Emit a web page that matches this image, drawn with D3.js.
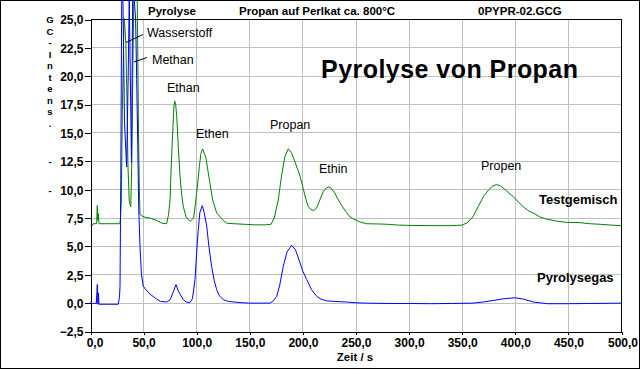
<!DOCTYPE html>
<html>
<head>
<meta charset="utf-8">
<script src="https://cdn.jsdelivr.net/npm/d3@7.9.0/dist/d3.min.js"></script>
<style>
  body { margin: 0; background: #fff; }
  svg { display: block; font-family: "Liberation Sans", Arial, sans-serif; }
  .grid line { stroke: #c0c0c0; shape-rendering: crispEdges; }
  .axis text { font-weight: bold; font-size: 12px; }
  .axis path, .axis line { stroke: #000; shape-rendering: crispEdges; }
</style>
</head>
<body>
<svg width="640" height="369"></svg>
<script>
// time (s), intensity
const testgemisch = [
  [0, 6.83], [1.5, 6.83], [2.5, 7.0], [5.8, 7.0], [6.4, 8.6], [6.8, 7.3], [7.3, 7.9], [8, 7.0],
  [15, 7.0], [27, 7.0], [28, 7.2], [29, 9.0], [30, 17], [31, 22], [31.6, 25.1], [32.3, 24.5],
  [33.3, 22.9], [34.3, 18], [35.3, 12], [36.5, 9.0], [37.9, 8.5], [38.8, 12], [39.8, 20],
  [40.8, 27], [44, 27], [45.2, 15], [46, 10], [46.6, 7.9], [48, 7.7], [52, 7.55], [56, 7.5],
  [62, 7.3], [67, 7.05], [71.7, 7.0], [73.5, 7.8], [74.9, 9.1], [76, 12], [77.4, 15],
  [78.5, 17.3], [79.3, 17.8], [80.2, 17.5], [81.2, 16.45], [82.7, 13.8], [84.3, 11.2],
  [85.8, 9.6], [87.4, 8.5], [90, 7.6], [93.7, 7.2], [97.1, 7.5], [100, 9.7], [102.5, 12.05],
  [104, 13.2], [105.6, 13.6], [108.7, 12.8], [111.9, 10.9], [115, 9.1], [118.8, 7.95],
  [125, 7.3], [128, 7.05], [135, 7.0], [145, 6.95], [155, 6.9], [165, 6.9], [170, 6.95],
  [173, 7.5], [176.8, 9.1], [180, 11.3], [183, 12.9], [186.3, 13.6], [189, 13.3], [192, 12.6],
  [195, 11.8], [197.3, 11.2], [200, 10.2], [203, 9.1], [205, 8.5], [207, 8.3], [209.8, 8.15],
  [213, 8.4], [216, 9.1], [219, 9.8], [222, 10.15], [224.5, 10.24], [227, 10.1], [230, 9.7],
  [234, 9.0], [238, 8.4], [241, 8.0], [244.3, 7.6], [248, 7.4], [253.8, 7.15], [260, 7.0],
  [270, 6.98], [280, 6.95], [290, 6.88], [300, 6.85], [320, 6.83], [340, 6.83], [350, 6.88],
  [355, 7.1], [360, 7.6], [365, 8.5], [370, 9.4], [375, 10.0], [379, 10.35], [382.5, 10.44],
  [386, 10.35], [390, 10.05], [394, 9.7], [398, 9.4], [403, 8.9], [408, 8.45], [413, 8.1],
  [417, 7.95], [423, 7.6], [429.6, 7.4], [438, 7.25], [448, 7.12], [460, 7.1], [470, 7.0],
  [480, 6.95], [490, 6.88], [500, 6.83]
];
const pyrolysegas = [
  [0, 0.08], [2, -0.05], [4, 0], [5.5, -0.05], [6.4, 1.64], [7, -0.1], [7.5, 0.9], [8, -0.1],
  [15, -0.1], [26, -0.1], [27.3, 0.5], [27.8, 1.5], [28.5, 10.8], [29.4, 27], [30.5, 27],
  [32, 16], [34, 12], [35.5, 20], [36.5, 27], [37.5, 20], [38.6, 12.4], [39.7, 27], [41, 27],
  [42.5, 25], [43.5, 19.7], [44.5, 14], [45.4, 8.5], [46.6, 5], [48, 2.5], [49.7, 1.5],
  [52, 1.2], [56, 0.8], [62.3, 0.35], [66, 0.15], [71.7, 0.1], [75, 0.3], [78, 1.0],
  [80.5, 1.64], [83, 1.0], [87.4, 0.3], [90, 0.1], [93.7, 0.05], [96, 0.4], [98.4, 2.08],
  [100, 4.5], [101.5, 6.48], [103, 8.0], [105.3, 8.6], [107, 8.0], [109.4, 6.8], [111.5, 5.0],
  [114, 3.25], [116.5, 2.0], [118.8, 1.2], [121, 0.7], [125, 0.3], [130, 0.15], [140, 0.05],
  [150, 0], [169, 0], [172, 0.2], [175.3, 0.6], [178, 1.5], [181.5, 3.25], [185, 4.5],
  [189.4, 5.1], [193, 4.7], [197.3, 3.55], [200, 2.8], [203.6, 2.08], [208, 1.2], [213, 0.6],
  [217, 0.35], [222.4, 0.2], [230, 0.15], [241, 0.1], [250, 0.03], [260, 0], [280, -0.03],
  [300, -0.03], [320, -0.05], [340, -0.03], [360, 0], [370, 0.1], [380, 0.25], [390, 0.4],
  [400, 0.47], [408, 0.35], [417, 0.1], [430, -0.05], [450, -0.05], [470, -0.03], [500, 0]
];

const xTicks = d3.range(0, 501, 50);
const yTicks = d3.range(-2.5, 25.01, 2.5);
const yLabelChars = ["G", "C", "-", "I", "n", "t", "e", "n", "s", ".", "-", "-"];
const yLabelPos = [20, 31.5, 43, 54.5, 66, 77.5, 89, 100.5, 112, 124, 162, 191];

const peakLabels = [
  { text: "Wasserstoff", x: 147, y: 37 },
  { text: "Methan", x: 152, y: 64 },
  { text: "Ethan", x: 167, y: 92 },
  { text: "Ethen", x: 196, y: 138 },
  { text: "Propan", x: 270, y: 129 },
  { text: "Ethin", x: 319, y: 173 },
  { text: "Propen", x: 481, y: 170 }
];

const svg = d3.select('svg');
const de = d3.formatLocale({ decimal: ",", thousands: ".", grouping: [3], currency: ["", "€"] });
const fmt = de.format(".1f");

const x = d3.scaleLinear().domain([0, 500]).range([90.5, 621.5]);
const y = d3.scaleLinear().domain([-2.5, 25]).range([331.5, 19.5]);

// outer frame
svg.append('rect')
  .attr('x', 0.5).attr('y', 0.5).attr('width', 639).attr('height', 368)
  .attr('fill', '#fff').attr('stroke', '#000').attr('shape-rendering', 'crispEdges');

// grid
const grid = svg.append('g').attr('class', 'grid');
grid.selectAll('.v').data(xTicks.slice(1, -1)).join('line')
  .attr('x1', d => x(d)).attr('x2', d => x(d)).attr('y1', y(25)).attr('y2', y(-2.5));
grid.selectAll('.h').data(yTicks.slice(1, -1)).join('line')
  .attr('x1', x(0)).attr('x2', x(500)).attr('y1', d => y(d)).attr('y2', d => y(d));

// plot frame (top + right)
svg.append('path')
  .attr('d', `M${x(0)},${y(25)}H${x(500)}V${y(-2.5)}`)
  .attr('fill', 'none').attr('stroke', '#000').attr('shape-rendering', 'crispEdges');

// axes
svg.append('g').attr('class', 'axis')
  .attr('transform', `translate(${x(0)},0)`)
  .call(d3.axisLeft(y).tickValues(yTicks).tickFormat(fmt).tickSize(6).tickPadding(1).tickSizeOuter(0))
  .selectAll('text').attr('dy', '0.36em');

const xa = svg.append('g').attr('class', 'axis')
  .attr('transform', `translate(0,${y(-2.5)})`)
  .call(d3.axisBottom(x).tickValues(xTicks).tickFormat(fmt).tickSize(3).tickPadding(4).tickSizeOuter(0));
xa.selectAll('.tick').filter(d => d === 0).select('text').attr('dx', 4);
xa.selectAll('.tick').filter(d => d === 500).select('text').attr('dx', 1);

// curves
const line = d3.line().x(d => x(d[0])).y(d => y(d[1]));
svg.append('path').datum(testgemisch)
  .attr('d', line).attr('fill', 'none').attr('stroke', '#008000').attr('stroke-width', 1);
svg.append('path').datum(pyrolysegas)
  .attr('d', line).attr('fill', 'none').attr('stroke', '#0000ff').attr('stroke-width', 1);

// header
const header = svg.append('g').attr('font-weight', 'bold').attr('font-size', '11.5px');
header.append('text').attr('x', 148).attr('y', 15).text('Pyrolyse');
header.append('text').attr('x', 239).attr('y', 15).text('Propan auf Perlkat ca. 800°C');
header.append('text').attr('x', 478).attr('y', 15).text('0PYPR-02.GCG');

// y axis title, one letter per row
svg.append('g').attr('font-weight', 'bold').attr('font-size', '9.5px').attr('text-anchor', 'middle')
  .selectAll('text').data(yLabelChars).join('text')
  .attr('x', 50).attr('y', (d, i) => yLabelPos[i]).attr('dy', '0.36em').text(d => d);

// x axis title
svg.append('text').attr('x', 355).attr('y', 361).attr('text-anchor', 'middle')
  .attr('font-weight', 'bold').attr('font-size', '11.5px').text('Zeit / s');

// title and series names
svg.append('text').attr('x', 321).attr('y', 78).attr('font-weight', 'bold')
  .attr('font-size', '25px').attr('textLength', 257).text('Pyrolyse von Propan');
svg.append('text').attr('x', 539).attr('y', 204).attr('font-weight', 'bold')
  .attr('font-size', '13px').text('Testgemisch');
svg.append('text').attr('x', 537).attr('y', 282).attr('font-weight', 'bold')
  .attr('font-size', '13px').text('Pyrolysegas');

// peak labels
svg.append('g').attr('font-size', '12.5px')
  .selectAll('text').data(peakLabels).join('text')
  .attr('x', d => d.x).attr('y', d => d.y).text(d => d.text);

// leader lines
svg.append('line').attr('x1', 126).attr('y1', 42.5).attr('x2', 143).attr('y2', 34.5).attr('stroke', '#000');
svg.append('line').attr('x1', 134).attr('y1', 62).attr('x2', 147).attr('y2', 57.5).attr('stroke', '#000');
</script>
</body>
</html>
